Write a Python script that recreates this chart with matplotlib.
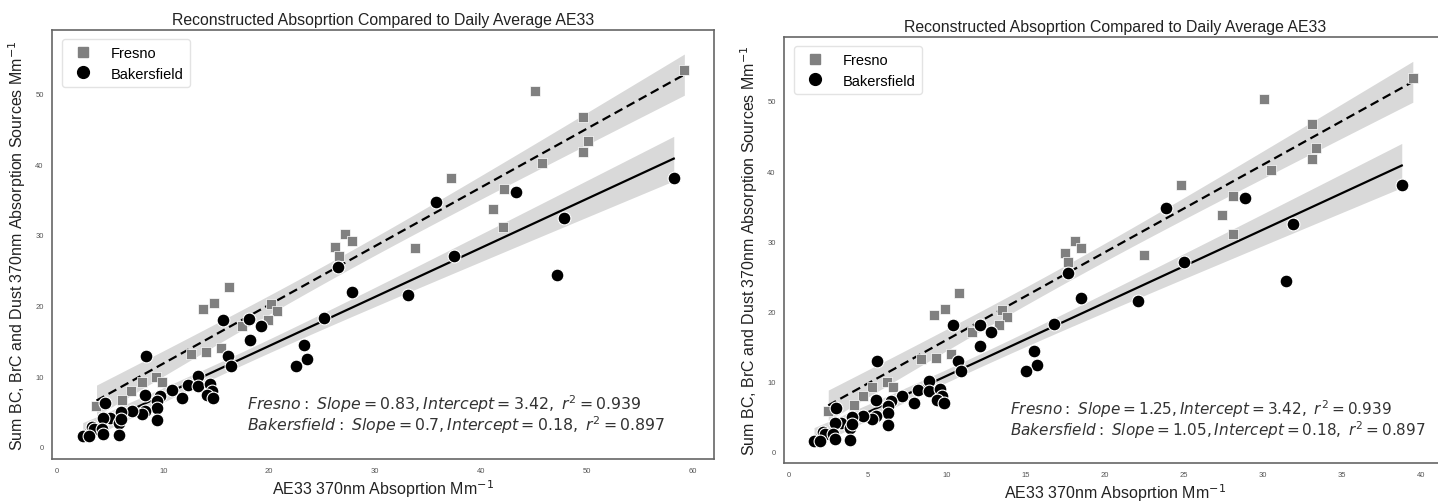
import numpy as np
import matplotlib
matplotlib.use("Agg")
import matplotlib.pyplot as plt
from matplotlib.lines import Line2D

# ---------------- data ----------------
fresno_y = [53.3, 50.3, 46.7, 43.3, 41.7, 40.2, 38.0, 36.5, 33.7, 31.1,
            28.1, 30.1, 29.1, 28.3, 27.0, 22.6, 20.4, 19.5, 20.2, 19.2,
            18.0, 17.1, 14.0, 13.4, 13.2, 9.9, 9.2, 9.2, 7.9, 6.6, 5.8]
fresno_x_left = [59.2, 45.1, 49.6, 50.1, 49.6, 45.8, 37.2, 42.2, 41.1, 42.1,
                 33.8, 27.2, 27.8, 26.2, 26.6, 16.2, 14.8, 13.8, 20.2, 20.7,
                 19.9, 17.4, 15.5, 14.0, 12.6, 9.3, 9.9, 8.0, 7.0, 6.1, 3.7]
fresno_x_right = [39.5, 30.1, 33.1, 33.4, 33.1, 30.5, 24.8, 28.1, 27.4, 28.1,
                  22.5, 18.1, 18.5, 17.5, 17.7, 10.8, 9.9, 9.2, 13.5, 13.8,
                  13.3, 11.6, 10.3, 9.3, 8.4, 6.2, 6.6, 5.3, 4.7, 4.1, 2.5]

bak_y = [38.0, 36.1, 34.7, 32.4, 27.0, 24.3, 21.5, 25.5, 21.9, 18.2,
         14.4, 12.4, 11.5, 18.0, 18.1, 17.1, 15.1, 12.9, 11.5, 10.1,
         8.8, 8.6, 8.9, 7.9, 7.4, 6.9, 6.9, 12.9, 8.0, 7.2,
         6.5, 7.4, 5.5, 3.8, 5.1, 4.7, 5.1, 5.0, 6.2, 4.1,
         4.1, 3.4, 4.0, 2.8, 2.5, 2.5, 1.8, 1.7, 1.5, 1.6]
bak_x_left = [58.2, 43.3, 35.8, 47.8, 37.5, 47.2, 33.1, 26.5, 27.8, 25.2,
              23.3, 23.6, 22.5, 15.6, 18.1, 19.2, 18.2, 16.1, 16.4, 13.3,
              12.3, 13.3, 14.4, 14.6, 14.1, 14.7, 11.8, 8.4, 10.8, 9.7,
              9.4, 8.3, 9.4, 9.4, 8.3, 8.0, 7.1, 6.0, 4.5, 5.0,
              4.3, 5.8, 6.0, 3.3, 3.5, 4.2, 4.3, 5.8, 2.4, 3.0]
bak_x_right = [38.8, 28.9, 23.9, 31.9, 25.0, 31.5, 22.1, 17.7, 18.5, 16.8,
               15.5, 15.7, 15.0, 10.4, 12.1, 12.8, 12.1, 10.7, 10.9, 8.9,
               8.2, 8.9, 9.6, 9.7, 9.4, 9.8, 7.9, 5.6, 7.2, 6.5,
               6.3, 5.5, 6.3, 6.3, 5.5, 5.3, 4.7, 4.0, 3.0, 3.3,
               2.9, 3.9, 4.0, 2.2, 2.3, 2.8, 2.9, 3.9, 1.6, 2.0]

series_names = ["Fresno", "Bakersfield"]
title = "Reconstructed Absoprtion Compared to Daily Average AE33"
xlabel = r"AE33 370nm Absoprtion Mm$^{-1}$"
ylabel = r"Sum BC, BrC and Dust 370nm Absorption Sources Mm$^{-1}$"
ann_left = [r"$Fresno:\ Slope = 0.83, Intercept = 3.42,\ r^2 = 0.939$",
            r"$Bakersfield:\ Slope = 0.7, Intercept = 0.18,\ r^2 = 0.897$"]
ann_right = [r"$Fresno:\ Slope = 1.25, Intercept = 3.42,\ r^2 = 0.939$",
             r"$Bakersfield:\ Slope = 1.05, Intercept = 0.18,\ r^2 = 0.897$"]

# ---------------- style ----------------
plt.rcParams["font.family"] = ["Liberation Sans", "DejaVu Sans"]
plt.rcParams["mathtext.fontset"] = "dejavusans"

GRAY = "#808080"
SPINE = "#666666"


def fit_band(x, y):
    x = np.asarray(x, float)
    y = np.asarray(y, float)
    n = len(x)
    b, a = np.polyfit(x, y, 1)
    xs = np.linspace(x.min(), x.max(), 200)
    yh = a + b * xs
    res = y - (a + b * x)
    s = np.sqrt(np.sum(res ** 2) / (n - 2))
    sxx = np.sum((x - x.mean()) ** 2)
    se = s * np.sqrt(1.0 / n + (xs - x.mean()) ** 2 / sxx)
    t = 2.02
    return xs, yh, yh - t * se, yh + t * se


def draw(ax, fx, fy, bx, by, ann, ann_x, ann_size, xlim, ylim, xticks):
    for x, y, ls in ((fx, fy, (0, (4, 2.2))), (bx, by, "-")):
        xs, yh, lo, hi = fit_band(x, y)
        ax.fill_between(xs, lo, hi, color="black", alpha=0.15, lw=0, zorder=1)
        ax.plot(xs, yh, color="black", lw=1.6, ls=ls, zorder=2)
    ax.scatter(fx, fy, marker="s", s=62, color=GRAY, edgecolor="white",
               linewidth=0.5, zorder=3)
    ax.scatter(bx, by, marker="o", s=85, color="black", edgecolor="white",
               linewidth=0.8, zorder=4)
    ax.set_xlim(*xlim)
    ax.set_ylim(*ylim)
    ax.set_xticks(xticks)
    ax.set_yticks([0, 10, 20, 30, 40, 50])
    ax.tick_params(labelsize=5.5, colors="#555555", length=0, pad=6)
    for sp in ax.spines.values():
        sp.set_color(SPINE)
        sp.set_linewidth(1.2)
    ax.set_title(title, fontsize=11.4, color="#222222", pad=4)
    ax.set_xlabel(xlabel, fontsize=11.5, color="#222222", labelpad=2)
    ax.set_ylabel(ylabel, fontsize=11.5, color="#222222", labelpad=5)
    ax.text(ann_x, 6.2, ann[0], fontsize=ann_size, color="#333333", va="center", ha="left")
    ax.text(ann_x, 3.2, ann[1], fontsize=ann_size, color="#333333", va="center", ha="left")
    handles = [Line2D([], [], marker="s", ls="", color=GRAY, markersize=7.5),
               Line2D([], [], marker="o", ls="", color="black", markersize=8.5)]
    leg = ax.legend(handles, series_names, loc="upper left", fontsize=10.5,
                    frameon=True, borderpad=0.45, handletextpad=0.9,
                    labelspacing=0.45, bbox_to_anchor=(0.004, 0.995))
    leg.get_frame().set_edgecolor("#dddddd")


fig = plt.figure(figsize=(14.38, 5.02), dpi=100)
W, H = 1438.0, 502.0
ax1 = fig.add_axes([52 / W, (H - 460) / H, (714 - 52) / W, (460 - 31) / H])
ax2 = fig.add_axes([784 / W, (H - 464) / H, (1446 - 784) / W, (464 - 38) / H])

draw(ax1, fresno_x_left, fresno_y, bak_x_left, bak_y, ann_left, 17.9, 11.3,
     (-0.5, 62.0), (-1.7, 59.0), [0, 10, 20, 30, 40, 50, 60])
draw(ax2, fresno_x_right, fresno_y, bak_x_right, bak_y, ann_right, 14.0, 11.0,
     (-0.3, 41.6), (-1.6, 59.1), [0, 5, 10, 15, 20, 25, 30, 35, 40])

fig.savefig("out.png", dpi=100)
